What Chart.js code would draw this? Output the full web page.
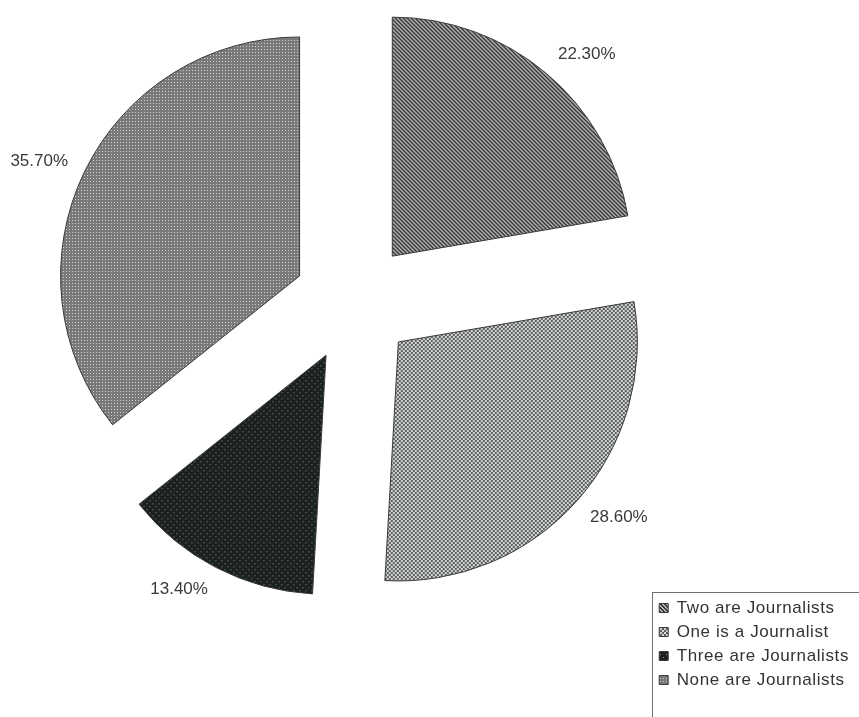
<!DOCTYPE html>
<html>
<head>
<meta charset="utf-8">
<script src="https://cdn.jsdelivr.net/npm/chart.js@4/dist/chart.umd.min.js"></script>
<style>
  html, body { margin: 0; padding: 0; background: #fff; }
</style>
</head>
<body>
<canvas id="chart" width="859" height="717"></canvas>
<script>
const labels = ['Two are Journalists', 'One is a Journalist', 'Three are Journalists', 'None are Journalists'];
const shares = [22.3, 28.6, 13.4, 35.7];

const EXPLODE = 60;     // how far each slice is pulled out from the centre
const LABEL_GAP = 18;   // gap between slice edge and the near corner of its % label

// small repeating fills, like the old black & white chart hatchings
function makePattern(size, bg, fg, pixels) {
    const c = document.createElement('canvas');
    c.width = c.height = size;
    const g = c.getContext('2d');
    g.fillStyle = bg;
    g.fillRect(0, 0, size, size);
    g.fillStyle = fg;
    pixels.forEach(p => g.fillRect(p[0], p[1], p[2] || 1, p[3] || 1));
    return g.createPattern(c, 'repeat');
}

const fills = [
    makePattern(4, '#b9b9b9', '#303232', [[0,0],[1,1],[2,2],[3,3],[1,0],[2,1],[3,2],[0,3]]),
    makePattern(4, '#5e6262', '#d2d4d4', [[0,0,2,2],[2,2,2,2]]),
    makePattern(6, '#1b2020', '#8c9090', [[0,0],[3,3]]),
    makePattern(3, '#787a7a', '#cfd0d0', [[0,0]])
];

// draw every arc pushed out along its middle angle
const explode = {
    id: 'explode',
    beforeDatasetDraw(chart, args) {
        const ctx = chart.ctx;
        args.meta.data.forEach(arc => {
            const mid = (arc.startAngle + arc.endAngle) / 2;
            ctx.save();
            ctx.translate(Math.cos(mid) * EXPLODE, Math.sin(mid) * EXPLODE);
            arc.draw(ctx);
            ctx.restore();
        });
        return false;
    }
};

// percentage next to each slice, text box hung off the anchor point outside the arc
const pctLabels = {
    id: 'pctLabels',
    afterDatasetsDraw(chart) {
        const ctx = chart.ctx;
        const meta = chart.getDatasetMeta(0);
        ctx.save();
        ctx.letterSpacing = '0px';
        ctx.font = '17px "Liberation Sans", Arial, sans-serif';
        ctx.fillStyle = '#3a3a3a';
        ctx.textAlign = 'center';
        ctx.textBaseline = 'middle';
        meta.data.forEach((arc, i) => {
            const text = shares[i].toFixed(2) + '%';
            const w = ctx.measureText(text).width;
            const mid = (arc.startAngle + arc.endAngle) / 2;
            const r = arc.outerRadius + EXPLODE + LABEL_GAP;
            const x = arc.x + Math.cos(mid) * r + Math.sign(Math.cos(mid)) * w / 2;
            const y = arc.y + Math.sin(mid) * r + Math.sin(mid) * 7;
            ctx.fillText(text, x, y);
        });
        ctx.restore();
    }
};

// wide-set legend lettering, and a frame round the legend running off the corner
const legendStyle = {
    id: 'legendStyle',
    beforeLayout(chart) { chart.ctx.letterSpacing = '0.6px'; },
    beforeDraw(chart) { chart.ctx.letterSpacing = '0.6px'; },
    afterDraw(chart) {
        const hb = chart.legend.legendHitBoxes[0];
        const ctx = chart.ctx;
        ctx.save();
        ctx.strokeStyle = '#707070';
        ctx.lineWidth = 1;
        ctx.strokeRect(Math.round(hb.left) - 6.5, Math.round(hb.top) - 7.5, 400, 400);
        ctx.restore();
    }
};

Chart.defaults.font.family = '"Liberation Sans", Arial, sans-serif';

const ctx = document.getElementById('chart').getContext('2d');
const pieChart = new Chart(ctx, {
    type: 'pie',
    data: {
        labels: labels,
        datasets: [{
            data: shares,
            backgroundColor: fills,
            borderColor: '#3a3a3a',
            borderWidth: 1
        }]
    },
    options: {
        responsive: false,
        animation: false,
        events: [],
        radius: 239,
        layout: {
            padding: { left: 55, top: 0, right: 0, bottom: 21.5 }
        },
        plugins: {
            legend: {
                position: 'right',
                align: 'end',
                labels: {
                    boxWidth: 9,
                    boxHeight: 9,
                    padding: 7,
                    color: '#333',
                    font: { size: 17 }
                }
            },
            // empty bottom band that keeps the pie clear of the legend rows
            title: {
                display: true,
                text: '',
                position: 'bottom',
                fullSize: false,
                font: { size: 10 },
                padding: { top: 0, bottom: 79.5 }
            },
            tooltip: { enabled: false }
        }
    },
    plugins: [explode, pctLabels, legendStyle]
});
</script>
</body>
</html>
